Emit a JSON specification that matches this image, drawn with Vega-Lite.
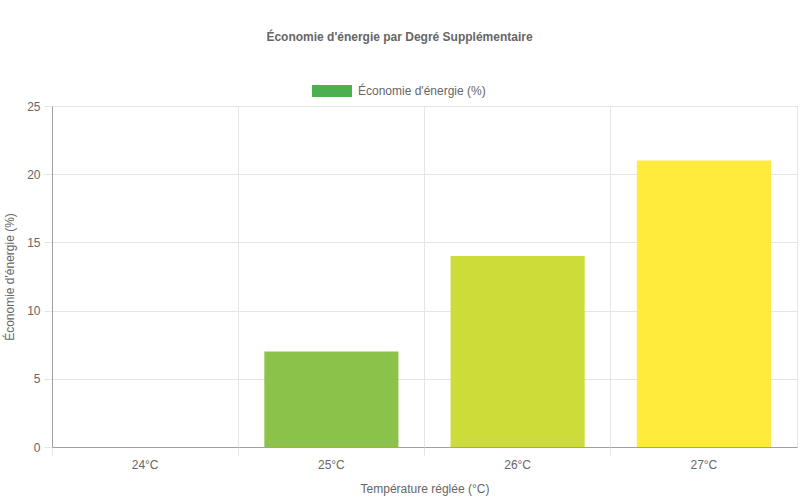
{
  "$schema": "https://vega.github.io/schema/vega-lite/v6.json",
  "description": "Économie d'énergie par degré supplémentaire",
  "width": 800,
  "height": 500,
  "autosize": {"type": "fit", "contains": "padding"},
  "padding": {"left": 3, "right": 3, "top": 31, "bottom": 6},
  "title": {
    "text": "Économie d'énergie par Degré Supplémentaire",
    "font": "Liberation Sans",
    "fontSize": 12,
    "fontWeight": "bold",
    "color": "#666666",
    "offset": 56,
    "dx": -25
  },
  "config": {
    "font": "Liberation Sans",
    "view": {"stroke": "#e5e5e5"},
    "axis": {
      "labelFont": "Liberation Sans",
      "labelFontSize": 12,
      "labelColor": "#666666",
      "titleFont": "Liberation Sans",
      "titleFontSize": 12,
      "titleFontWeight": "normal",
      "titleColor": "#666666",
      "gridColor": "#e5e5e5",
      "tickColor": "#e5e5e5",
      "domainColor": "#a0a0a0",
      "tickSize": 8
    }
  },
  "data": {
    "values": [
      {"temperature": "24°C", "economie": 0},
      {"temperature": "25°C", "economie": 7},
      {"temperature": "26°C", "economie": 14},
      {"temperature": "27°C", "economie": 21}
    ]
  },
  "layer": [
    {
      "mark": {"type": "bar", "width": {"band": 0.72}},
      "encoding": {
        "x": {
          "field": "temperature",
          "type": "nominal",
          "sort": null,
          "title": "Température réglée (°C)",
          "scale": {"paddingInner": 0, "paddingOuter": 0},
          "axis": {"orient": "bottom", "labelAngle": 0, "ticks": false, "grid": false, "labelPadding": 12, "titlePadding": 13}
        },
        "y": {
          "field": "economie",
          "type": "quantitative",
          "title": "Économie d'énergie (%)",
          "scale": {"domain": [0, 25], "nice": false, "zero": true},
          "axis": {"values": [0, 5, 10, 15, 20, 25], "labelPadding": 4, "titlePadding": 10}
        },
        "color": {
          "field": "temperature",
          "type": "nominal",
          "scale": {
            "domain": ["24°C", "25°C", "26°C", "27°C"],
            "range": ["#4CAF50", "#8BC34A", "#CDDC39", "#FFEB3B"]
          },
          "legend": null
        }
      }
    },
    {
      "mark": {"type": "point", "filled": true, "opacity": 0},
      "encoding": {
        "x": {
          "field": "temperature",
          "type": "nominal",
          "sort": null,
          "axis": {"orient": "bottom", "bandPosition": 0, "labels": false, "title": null, "grid": true, "domain": false}
        },
        "y": {"field": "economie", "type": "quantitative"},
        "color": {
          "datum": "Économie d'énergie (%)",
          "scale": {"range": ["#4CAF50"]},
          "legend": {
            "title": null,
            "orient": "none",
            "legendX": 260,
            "legendY": -35,
            "symbolType": "M-1,-0.3H1V0.3H-1Z",
            "symbolSize": 1600,
            "symbolOpacity": 1,
            "symbolStrokeWidth": 0,
            "labelFont": "Liberation Sans",
            "labelFontSize": 12,
            "labelColor": "#666666",
            "labelOffset": 6
          }
        }
      }
    }
  ],
  "resolve": {"scale": {"color": "independent"}, "axis": {"x": "independent"}}
}
